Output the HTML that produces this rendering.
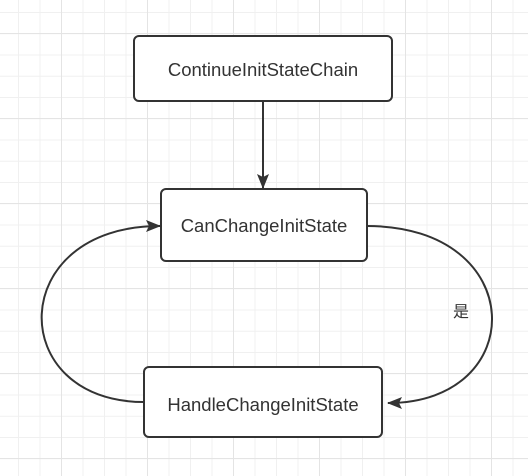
<!DOCTYPE html>
<html><head><style>
html,body{margin:0;padding:0;background:#fff;}
body{width:528px;height:476px;overflow:hidden;
background-image:
linear-gradient(#e4e4e4 1px,transparent 1px),
linear-gradient(90deg,#e4e4e4 1px,transparent 1px),
linear-gradient(#f0f0f0 1px,transparent 1px),
linear-gradient(90deg,#f0f0f0 1px,transparent 1px);
background-size:85px 85px,86px 86px,21.25px 21.25px,21.5px 21.5px;
background-position:0 33px,61px 0,0 12px,18px 0;}
</style></head><body>
<svg width="528" height="476" style="position:absolute;left:0;top:0" font-family="Liberation Sans, Noto Sans CJK SC, sans-serif" font-size="18.5" fill="#333">
<defs><marker id="a" markerWidth="16" markerHeight="14" refX="14" refY="7" orient="auto" markerUnits="userSpaceOnUse"><path d="M0,1 L15,7 L0,13 L3,7z" fill="#333"/></marker></defs>
<g fill="#fff" stroke="#333" stroke-width="2">
<rect x="134" y="36" width="258" height="65" rx="5"/>
<rect x="161" y="189" width="206" height="72" rx="5"/>
<rect x="144" y="367" width="238" height="70" rx="5"/>
</g>
<g fill="none" stroke="#333" stroke-width="2">
<path d="M263 101 L263 188" marker-end="url(#a)"/>
<path d="M367 226 C530 226 530 403 388 403" marker-end="url(#a)"/>
<path d="M144 402 C5 402 5 226 160 226" marker-end="url(#a)"/>
</g>
<g text-anchor="middle">
<text x="263" y="76">ContinueInitStateChain</text>
<text x="264" y="232">CanChangeInitState</text>
<text x="263" y="411">HandleChangeInitState</text>
<text x="461" y="317" font-size="16">是</text>
</g>
</svg>
</body></html>
